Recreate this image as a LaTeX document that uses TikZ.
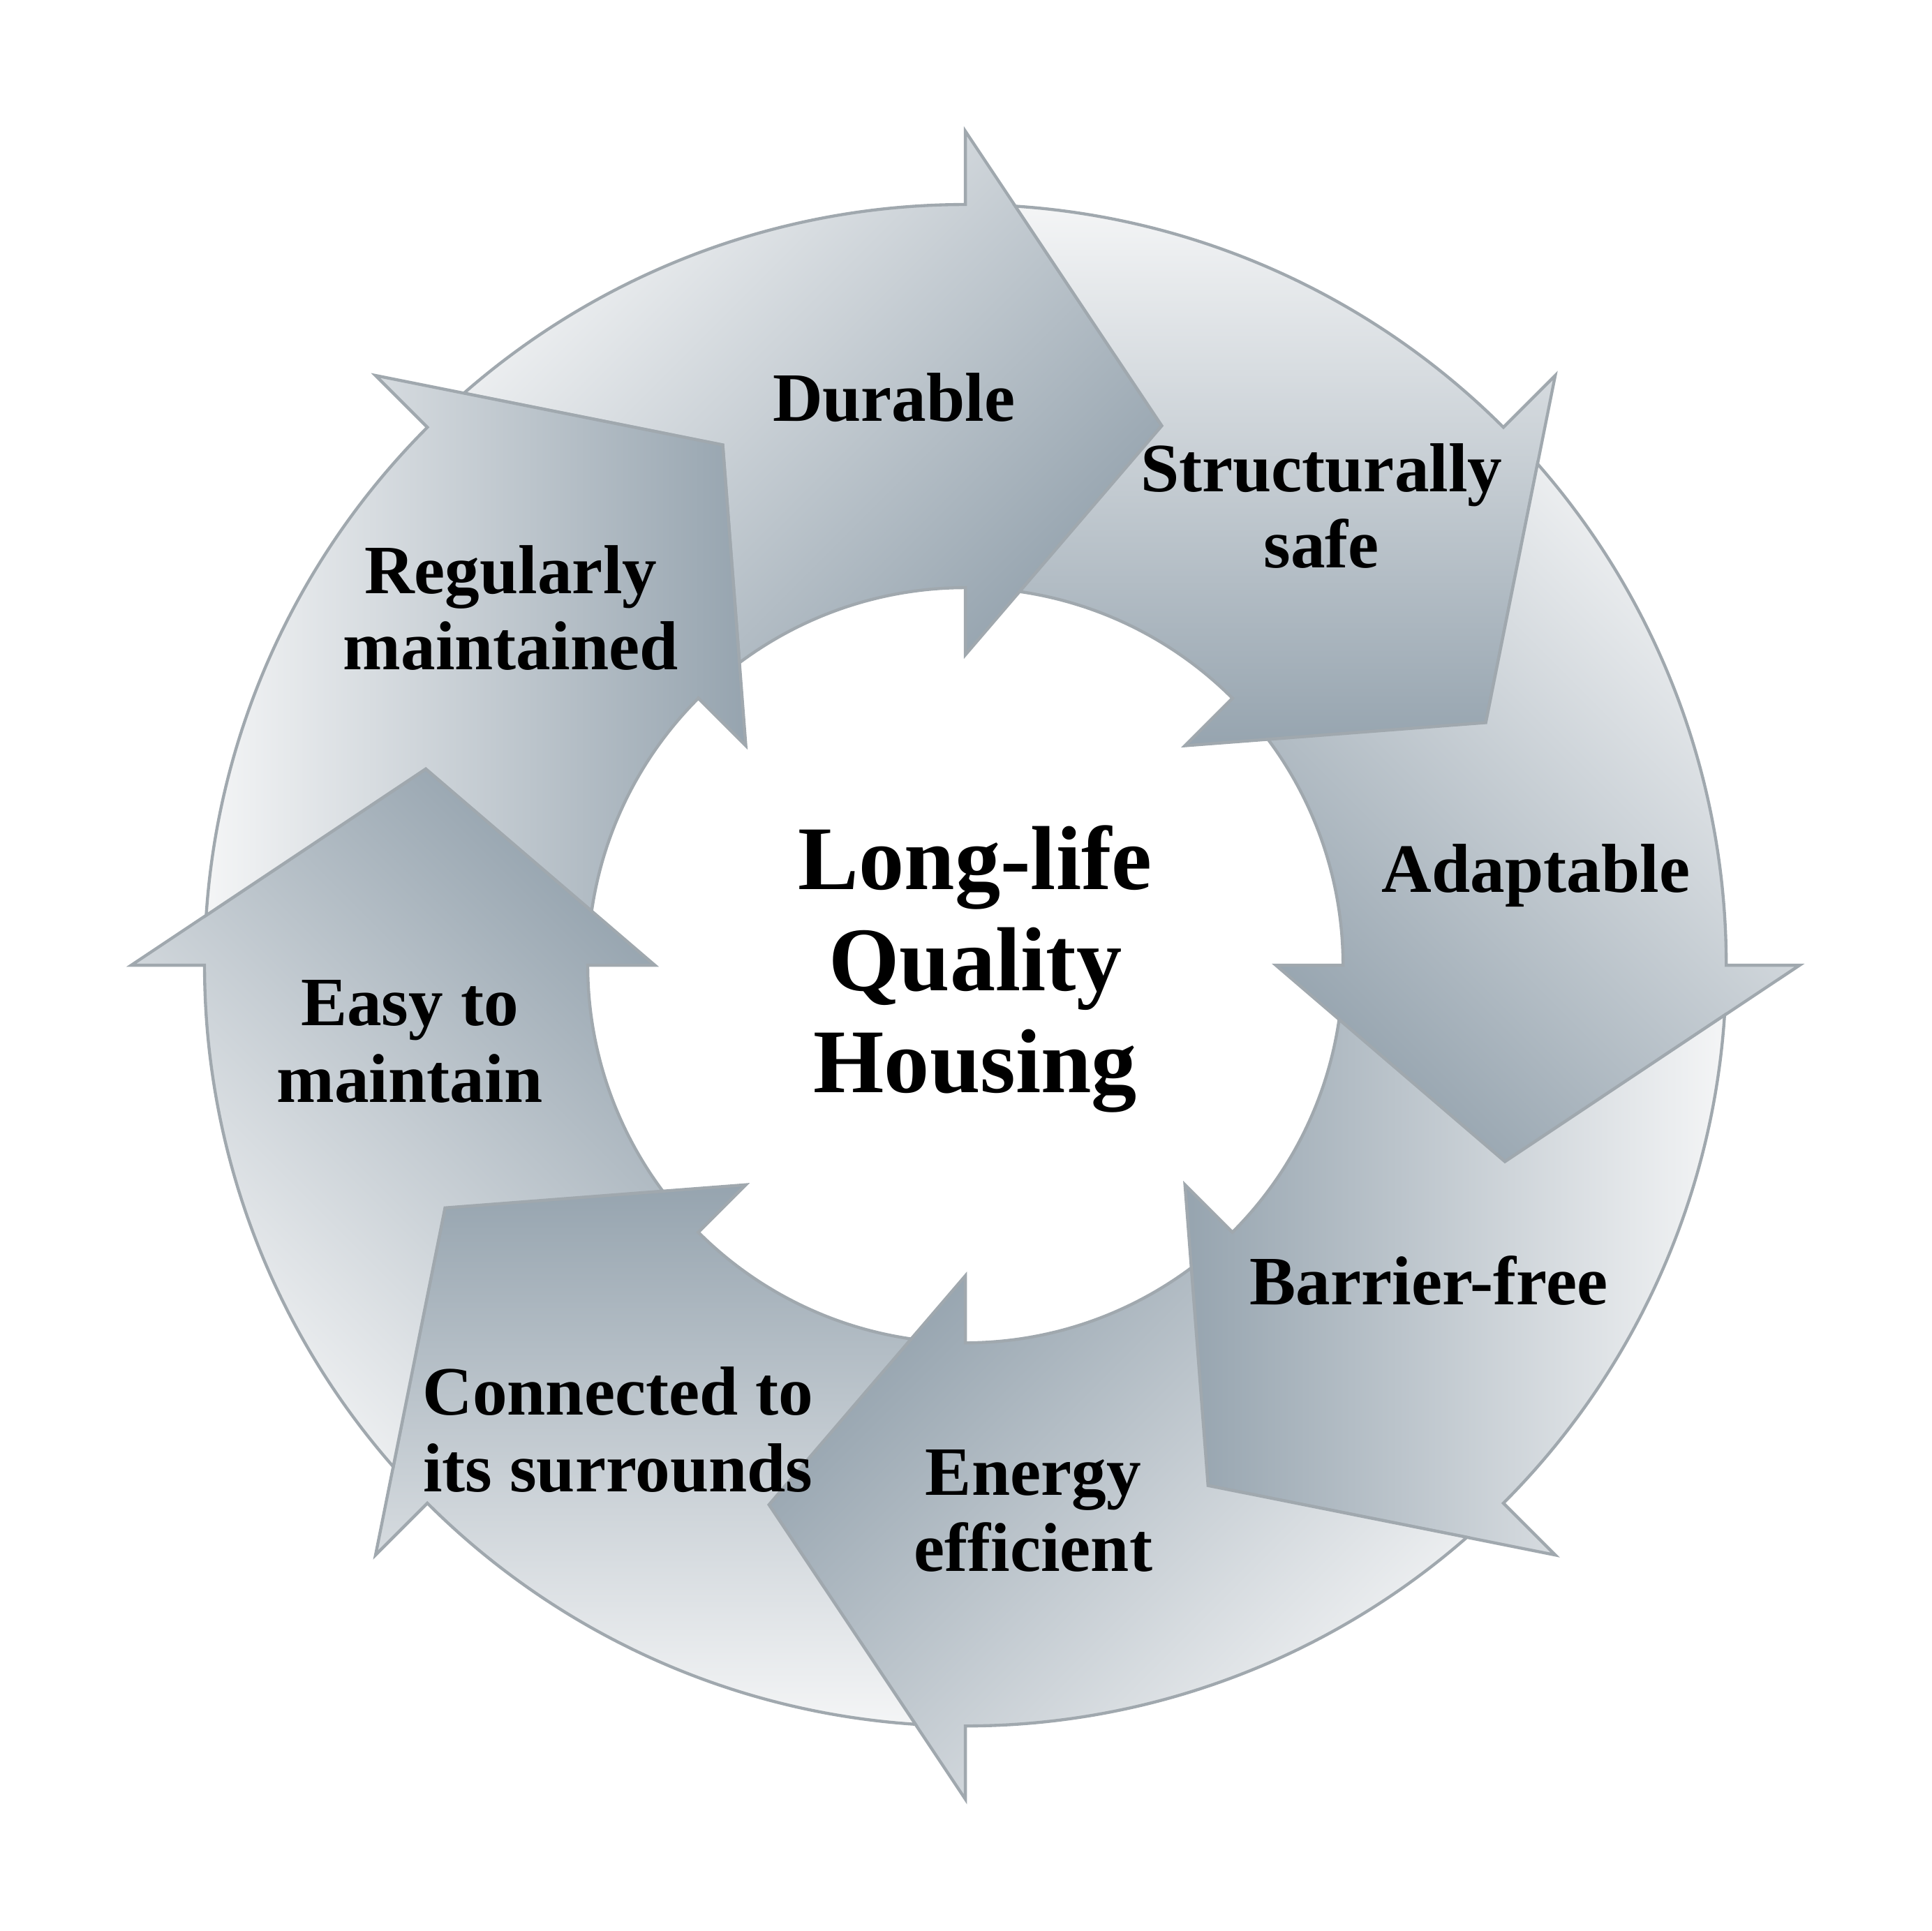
\documentclass[tikz,border=0pt]{standalone}
\usepackage{fontspec}
\setmainfont{Liberation Serif}
\definecolor{arrowlight}{RGB}{244,245,246}
\definecolor{arrowdark}{RGB}{150,164,175}
\definecolor{arrowline}{RGB}{160,168,174}

\begin{document}
\begin{tikzpicture}[
  ringarrow/.style={draw=arrowline, line width=.7pt, top color=arrowdark, bottom color=arrowlight},
  arrowtext/.style={inner sep=0pt, align=center, font=\fontsize{16}{17.6}\selectfont\bfseries},
  centretext/.style={inner sep=0pt, align=center, font=\fontsize{21}{23.5}\selectfont\bfseries}]
  \useasboundingbox (-7.835,-7.835) rectangle (7.845,7.835);

  %% arrows, clockwise from the top
  \draw[ringarrow, shading angle=-135] (131.24:6.175) arc[start angle=131.24, end angle=90, radius=6.175]
    -- (90:6.77) -- (70:4.66) -- (90:2.52) -- (90:3.065) arc[start angle=90, end angle=126.74, radius=3.065] -- (115:4.66) -- cycle;
  \draw[ringarrow, shading angle=-180] (86.24:6.175) arc[start angle=86.24, end angle=45, radius=6.175]
    -- (45:6.77) -- (25:4.66) -- (45:2.52) -- (45:3.065) arc[start angle=45, end angle=81.74, radius=3.065] -- (70:4.66) -- cycle;
  \draw[ringarrow, shading angle=135] (41.24:6.175) arc[start angle=41.24, end angle=0, radius=6.175]
    -- (0:6.77) -- (-20:4.66) -- (0:2.52) -- (0:3.065) arc[start angle=0, end angle=36.74, radius=3.065] -- (25:4.66) -- cycle;
  \draw[ringarrow, shading angle=90] (-3.76:6.175) arc[start angle=-3.76, end angle=-45, radius=6.175]
    -- (-45:6.77) -- (-65:4.66) -- (-45:2.52) -- (-45:3.065) arc[start angle=-45, end angle=-8.26, radius=3.065] -- (-20:4.66) -- cycle;
  \draw[ringarrow, shading angle=45] (-48.76:6.175) arc[start angle=-48.76, end angle=-90, radius=6.175]
    -- (-90:6.77) -- (-110:4.66) -- (-90:2.52) -- (-90:3.065) arc[start angle=-90, end angle=-53.26, radius=3.065] -- (-65:4.66) -- cycle;
  \draw[ringarrow, shading angle=0] (-93.76:6.175) arc[start angle=-93.76, end angle=-135, radius=6.175]
    -- (-135:6.77) -- (-155:4.66) -- (-135:2.52) -- (-135:3.065) arc[start angle=-135, end angle=-98.26, radius=3.065] -- (-110:4.66) -- cycle;
  \draw[ringarrow, shading angle=-45] (221.24:6.175) arc[start angle=221.24, end angle=180, radius=6.175]
    -- (180:6.77) -- (160:4.66) -- (180:2.52) -- (180:3.065) arc[start angle=180, end angle=216.74, radius=3.065] -- (205:4.66) -- cycle;
  \draw[ringarrow, shading angle=-90] (176.24:6.175) arc[start angle=176.24, end angle=135, radius=6.175]
    -- (135:6.77) -- (115:4.66) -- (135:2.52) -- (135:3.065) arc[start angle=135, end angle=171.74, radius=3.065] -- (160:4.66) -- cycle;

  %% labels
  \node[arrowtext] (durable) at (-0.58,4.61) {Durable};
  \node[arrowtext] (safe) at (2.89,3.73) {Structurally\\safe};
  \node[arrowtext] (adapt) at (4.63,0.73) {Adaptable};
  \node[arrowtext] (barrier) at (3.76,-2.56) {Barrier-free};
  \node[arrowtext] (energy) at (0.55,-4.43) {Energy\\efficient};
  \node[arrowtext] (connect) at (-2.82,-3.77) {Connected to\\its surrounds};
  \node[arrowtext] (easy) at (-4.51,-0.62) {Easy to\\maintain};
  \node[arrowtext] (regular) at (-3.69,2.90) {Regularly\\maintained};

  %% centre
  \node[centretext] (housing) at (0.08,-0.03) {Long-life\\Quality\\Housing};
\end{tikzpicture}
\end{document}
